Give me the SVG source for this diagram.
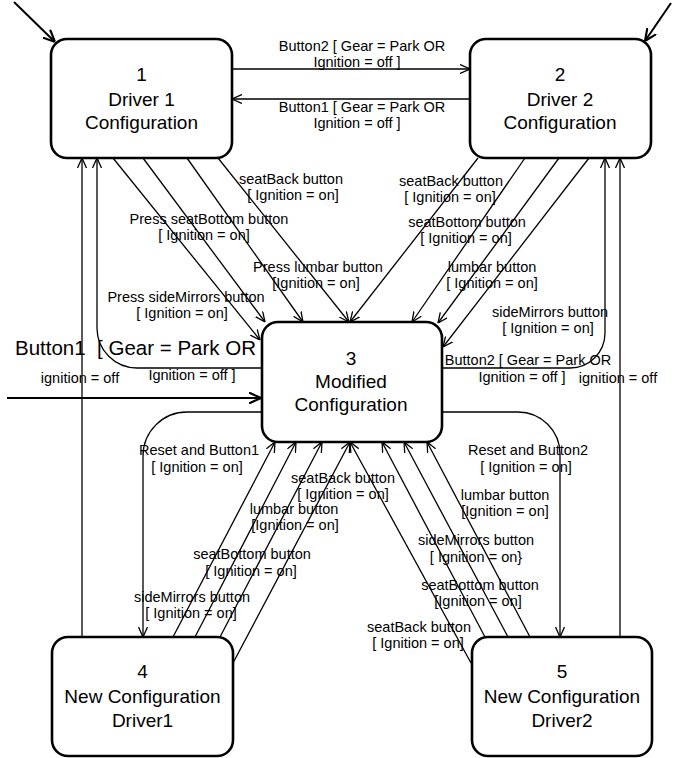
<svg xmlns="http://www.w3.org/2000/svg" width="673" height="758" viewBox="0 0 673 758">
<defs>
<style>
.box{fill:#fff;stroke:#000;stroke-width:2.6}
.n{font-family:"Liberation Sans",Arial,sans-serif;font-size:19px;text-anchor:middle;fill:#000}
.l{font-family:"Liberation Sans",Arial,sans-serif;font-size:14.5px;text-anchor:middle;fill:#000}
.big{font-family:"Liberation Sans",Arial,sans-serif;font-size:20.5px;fill:#000}
.c{fill:none;stroke:#000;stroke-width:1.3;marker-end:url(#a)}
.ci{fill:none;stroke:#000;stroke-width:2;marker-end:url(#b)}
</style>
<marker id="a" viewBox="0 0 10 10" refX="10" refY="5" markerWidth="10" markerHeight="10" markerUnits="userSpaceOnUse" orient="auto"><path d="M0,0.5 L10,5 L0,9.5" fill="none" stroke="#000" stroke-width="1.3"/></marker>
<marker id="b" viewBox="0 0 10 10" refX="10" refY="5" markerWidth="12" markerHeight="12" markerUnits="userSpaceOnUse" orient="auto"><path d="M0,0.5 L10,5 L0,9.5" fill="none" stroke="#000" stroke-width="1.8"/></marker>
</defs>
<rect width="673" height="758" fill="#fff"/>
<g id="connectors">
<path class="ci" d="M14,2 L55,42"/>
<path class="ci" d="M671,3 L645,41"/>
<path class="ci" d="M7,398 L261,398"/>
<path class="c" d="M232,69 L470,69"/>
<path class="c" d="M470,99 L232,99"/>
<path class="c" d="M82,637 L82,158"/>
<path class="c" d="M262,368 H137 A40,40 0 0 1 97,328 V158"/>
<path class="c" d="M113,158 L260,340"/>
<path class="c" d="M143,158 L265,322"/>
<path class="c" d="M187,158 L303,322"/>
<path class="c" d="M218,158 L349,322"/>
<path class="c" d="M478,158 L350,322"/>
<path class="c" d="M525,158 L412,322"/>
<path class="c" d="M559,158 L438,323"/>
<path class="c" d="M589,158 L443,347"/>
<path class="c" d="M442,368 H570 A35,35 0 0 0 605,333 V158"/>
<path class="c" d="M620,637 V158"/>
<path class="c" d="M262,412 H187 A44,44 0 0 0 143,456 V637"/>
<path class="c" d="M442,412 H518 A42,42 0 0 1 560,454 V637"/>
<path class="c" d="M173,637 L275,442"/>
<path class="c" d="M195,637 L296,442"/>
<path class="c" d="M220,637 L322,442"/>
<path class="c" d="M233,663 L350,442"/>
<path class="c" d="M471,663 L350,442"/>
<path class="c" d="M485,637 L382,442"/>
<path class="c" d="M508,637 L404,442"/>
<path class="c" d="M530,637 L427,442"/>
</g>
<g id="labels">
<text class="l" x="362" y="51">Button2 [ Gear = Park OR</text>
<text class="l" x="357" y="67">Ignition = off ]</text>
<text class="l" x="362" y="112">Button1 [ Gear = Park OR</text>
<text class="l" x="357" y="128">Ignition = off ]</text>
<text class="l" x="291" y="184">seatBack button</text>
<text class="l" x="293" y="200">[ Ignition = on]</text>
<text class="l" x="209" y="224">Press seatBottom button</text>
<text class="l" x="204" y="240">[ Ignition = on]</text>
<text class="l" x="318" y="272">Press lumbar button</text>
<text class="l" x="316" y="288">[Ignition = on]</text>
<text class="l" x="186" y="302">Press sideMirrors button</text>
<text class="l" x="182" y="318">[ Ignition = on]</text>
<text class="big" x="15" y="355">Button1&#160; [ Gear = Park OR</text>
<text class="l" x="192" y="380">Ignition = off ]</text>
<text class="l" x="80" y="383">ignition = off</text>
<text class="l" x="451" y="186">seatBack button</text>
<text class="l" x="450" y="202">[ Ignition = on]</text>
<text class="l" x="467" y="227">seatBottom button</text>
<text class="l" x="466" y="243">[ Ignition = on]</text>
<text class="l" x="492" y="272">lumbar button</text>
<text class="l" x="492" y="288">[ Ignition = on]</text>
<text class="l" x="550" y="317">sideMirrors button</text>
<text class="l" x="548" y="333">[ Ignition = on]</text>
<text class="l" x="528" y="365">Button2 [ Gear = Park OR</text>
<text class="l" x="522" y="382">Ignition = off ]</text>
<text class="l" x="618" y="383">ignition = off</text>
<text class="l" x="199" y="455">Reset and Button1</text>
<text class="l" x="197" y="472">[ Ignition = on]</text>
<text class="l" x="343" y="483">seatBack button</text>
<text class="l" x="343" y="499">[ Ignition = on]</text>
<text class="l" x="294" y="514">lumbar button</text>
<text class="l" x="295" y="530">[Ignition = on]</text>
<text class="l" x="252" y="559">seatBottom button</text>
<text class="l" x="251" y="576">[ Ignition = on]</text>
<text class="l" x="192" y="602">sideMirrors button</text>
<text class="l" x="191" y="618">[ Ignition = on]</text>
<text class="l" x="528" y="455">Reset and Button2</text>
<text class="l" x="526" y="472">[ Ignition = on]</text>
<text class="l" x="505" y="500">lumbar button</text>
<text class="l" x="505" y="516">[Ignition = on]</text>
<text class="l" x="476" y="545">sideMirrors button</text>
<text class="l" x="476" y="562">[ Ignition = on}</text>
<text class="l" x="480" y="590">seatBottom button</text>
<text class="l" x="478" y="606">[Ignition = on]</text>
<text class="l" x="419" y="632">seatBack button</text>
<text class="l" x="418" y="648">[ Ignition = on]</text>
</g>
<g id="node1">
<rect class="box" x="51" y="39" width="181" height="119" rx="16"/>
<text class="n" x="141.5" y="81">1</text>
<text class="n" x="141.5" y="106">Driver 1</text>
<text class="n" x="141.5" y="129">Configuration</text>
</g>
<g id="node2">
<rect class="box" x="470" y="39" width="181" height="119" rx="16"/>
<text class="n" x="560" y="81">2</text>
<text class="n" x="560" y="106">Driver 2</text>
<text class="n" x="560" y="129">Configuration</text>
</g>
<g id="node3">
<rect class="box" x="262" y="322" width="180" height="120" rx="16"/>
<text class="n" x="351" y="365">3</text>
<text class="n" x="351" y="388">Modified</text>
<text class="n" x="351" y="411">Configuration</text>
</g>
<g id="node4">
<rect class="box" x="52" y="637" width="181" height="119" rx="16"/>
<text class="n" x="142.5" y="678">4</text>
<text class="n" x="142.5" y="703">New Configuration</text>
<text class="n" x="142.5" y="727">Driver1</text>
</g>
<g id="node5">
<rect class="box" x="472" y="637" width="180" height="119" rx="16"/>
<text class="n" x="562" y="678">5</text>
<text class="n" x="562" y="703">New Configuration</text>
<text class="n" x="562" y="727">Driver2</text>
</g>
</svg>
